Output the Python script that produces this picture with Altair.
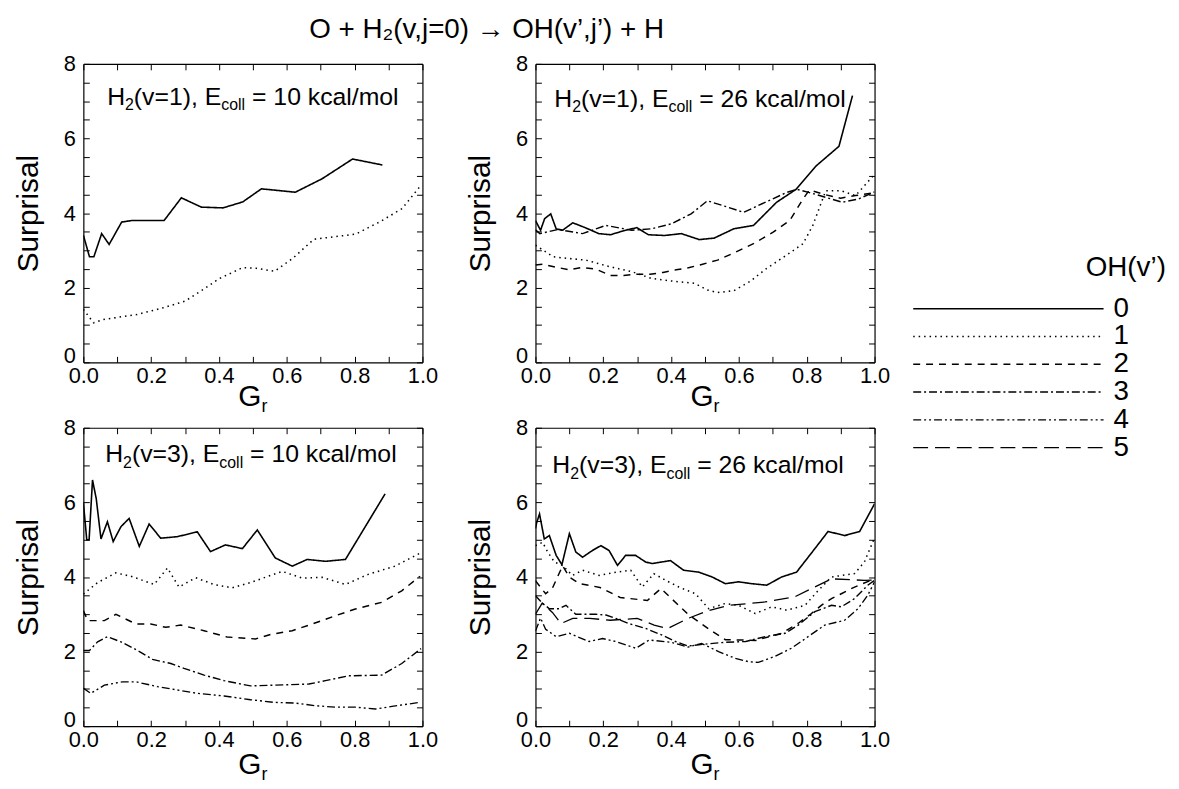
import altair as alt
import pandas as pd

FONT = "Liberation Sans"

# ---------------- text content ----------------
TITLE = "O + H₂(v,j=0) → OH(v’,j’) + H"
LEGEND_TITLE = "OH(v’)"
VPRIME = ["0", "1", "2", "3", "4", "5"]
PANEL_V = ["1", "1", "3", "3"]
PANEL_E = ["10", "26", "10", "26"]
Y_TITLE = "Surprisal"
X_TITLE = ["G", "r"]
X_TICKS = [0.0, 0.1, 0.2, 0.3, 0.4, 0.5, 0.6, 0.7, 0.8, 0.9, 1.0]
Y_TICKS = [0, 0.5, 1, 1.5, 2, 2.5, 3, 3.5, 4, 4.5, 5, 5.5, 6, 6.5, 7, 7.5, 8]

# ---------------- data: H2(v=1), Ecoll = 10 ----------------
TL_G0 = [0, 0.018, 0.031, 0.054, 0.076, 0.113, 0.142, 0.238, 0.289, 0.348, 0.412, 0.47, 0.525, 0.549, 0.625, 0.704, 0.794, 0.882]
TL_S0 = [3.41, 2.83, 2.83, 3.45, 3.16, 3.76, 3.80, 3.80, 4.41, 4.16, 4.14, 4.30, 4.65, 4.63, 4.56, 4.92, 5.45, 5.29]
TL_G1 = [0, 0.03, 0.06, 0.157, 0.235, 0.30, 0.353, 0.40, 0.47, 0.51, 0.564, 0.618, 0.68, 0.745, 0.804, 0.877, 0.94, 0.995]
TL_S1 = [1.42, 1.06, 1.15, 1.28, 1.46, 1.64, 1.95, 2.24, 2.54, 2.52, 2.44, 2.79, 3.30, 3.37, 3.44, 3.78, 4.12, 4.74]

# ---------------- data: H2(v=1), Ecoll = 26 ----------------
TR_G0 = [0, 0.015, 0.027, 0.045, 0.061, 0.08, 0.11, 0.144, 0.187, 0.221, 0.265, 0.299, 0.333, 0.381, 0.43, 0.483, 0.527, 0.585, 0.643, 0.711, 0.769, 0.827, 0.895, 0.935]
TR_S0 = [3.80, 3.54, 3.85, 3.98, 3.58, 3.54, 3.74, 3.62, 3.45, 3.42, 3.54, 3.61, 3.42, 3.40, 3.45, 3.29, 3.33, 3.58, 3.67, 4.29, 4.64, 5.26, 5.79, 7.15]
TR_G1 = [0, 0.052, 0.09, 0.149, 0.216, 0.284, 0.342, 0.41, 0.469, 0.507, 0.537, 0.585, 0.633, 0.682, 0.74, 0.789, 0.818, 0.856, 0.9, 0.944, 1.0]
TR_S1 = [3.14, 2.83, 2.79, 2.74, 2.57, 2.43, 2.25, 2.17, 2.12, 1.94, 1.87, 1.92, 2.17, 2.52, 2.87, 3.18, 3.67, 4.60, 4.60, 4.47, 5.04]
TR_G2 = [0, 0.022, 0.06, 0.1, 0.134, 0.178, 0.221, 0.26, 0.299, 0.338, 0.376, 0.415, 0.454, 0.493, 0.537, 0.585, 0.643, 0.701, 0.75, 0.789, 0.808, 0.856, 0.9, 0.944, 1.0]
TR_S2 = [2.61, 2.63, 2.55, 2.48, 2.54, 2.50, 2.33, 2.33, 2.36, 2.36, 2.41, 2.48, 2.54, 2.63, 2.74, 2.93, 3.18, 3.49, 3.80, 4.38, 4.62, 4.49, 4.40, 4.47, 4.55]
TR_G3 = [0, 0.013, 0.066, 0.139, 0.207, 0.284, 0.342, 0.4, 0.459, 0.507, 0.56, 0.614, 0.68, 0.74, 0.77, 0.808, 0.857, 0.905, 0.953, 1.0]
TR_S3 = [3.55, 3.45, 3.56, 3.45, 3.67, 3.54, 3.58, 3.71, 3.98, 4.33, 4.18, 4.02, 4.30, 4.55, 4.64, 4.55, 4.42, 4.29, 4.38, 4.57]

# ---------------- data: H2(v=3), Ecoll = 10 ----------------
BL_G0 = [0.0, 0.01, 0.017, 0.027, 0.038, 0.052, 0.071, 0.088, 0.111, 0.135, 0.165, 0.194, 0.228, 0.277, 0.336, 0.375, 0.419, 0.469, 0.513, 0.566, 0.616, 0.66, 0.714, 0.773, 0.89]
BL_S0 = [6.0, 5.0, 5.0, 6.6, 6.1, 5.02, 5.48, 4.95, 5.35, 5.57, 4.82, 5.42, 5.04, 5.08, 5.21, 4.68, 4.86, 4.76, 5.26, 4.51, 4.29, 4.47, 4.42, 4.47, 6.23]
BL_G1 = [0, 0.042, 0.096, 0.14, 0.209, 0.248, 0.282, 0.331, 0.385, 0.439, 0.493, 0.561, 0.586, 0.645, 0.704, 0.773, 0.84, 0.919, 0.993]
BL_S1 = [3.54, 3.85, 4.11, 4.02, 3.80, 4.24, 3.73, 3.98, 3.80, 3.71, 3.85, 4.07, 4.15, 3.97, 3.99, 3.80, 4.07, 4.29, 4.64]
BL_G2 = [0.0, 0.013, 0.062, 0.096, 0.155, 0.199, 0.243, 0.287, 0.356, 0.424, 0.508, 0.552, 0.616, 0.675, 0.743, 0.802, 0.88, 0.939, 0.993]
BL_S2 = [3.1, 2.83, 2.83, 3.0, 2.74, 2.74, 2.65, 2.71, 2.56, 2.39, 2.34, 2.46, 2.56, 2.74, 2.96, 3.14, 3.32, 3.63, 4.02]
BL_G3 = [0, 0.018, 0.042, 0.071, 0.111, 0.16, 0.204, 0.258, 0.297, 0.356, 0.415, 0.493, 0.561, 0.665, 0.714, 0.782, 0.88, 0.939, 0.996]
BL_S3 = [2.03, 2.03, 2.26, 2.40, 2.26, 2.03, 1.79, 1.68, 1.55, 1.37, 1.22, 1.08, 1.10, 1.13, 1.22, 1.35, 1.37, 1.68, 2.08]
BL_G4 = [0, 0.022, 0.062, 0.115, 0.155, 0.219, 0.277, 0.336, 0.415, 0.493, 0.561, 0.625, 0.684, 0.743, 0.802, 0.861, 0.91, 0.993]
BL_S4 = [1.02, 0.88, 1.10, 1.19, 1.19, 1.06, 0.97, 0.88, 0.81, 0.71, 0.64, 0.62, 0.55, 0.51, 0.51, 0.46, 0.53, 0.64]

# ---------------- data: H2(v=3), Ecoll = 26 ----------------
BR_G0 = [0, 0.004, 0.012, 0.026, 0.041, 0.061, 0.078, 0.1, 0.119, 0.139, 0.168, 0.193, 0.217, 0.242, 0.266, 0.295, 0.325, 0.344, 0.398, 0.437, 0.481, 0.521, 0.56, 0.599, 0.638, 0.682, 0.726, 0.77, 0.824, 0.863, 0.912, 0.956, 1.0]
BR_S0 = [5.3, 5.47, 5.69, 5.02, 5.11, 4.58, 4.33, 5.16, 4.67, 4.53, 4.71, 4.84, 4.71, 4.31, 4.58, 4.58, 4.40, 4.36, 4.44, 4.18, 4.13, 4.0, 3.82, 3.87, 3.82, 3.78, 4.0, 4.13, 4.76, 5.22, 5.11, 5.22, 5.96]
BR_G1 = [0, 0.021, 0.036, 0.056, 0.08, 0.109, 0.139, 0.188, 0.237, 0.281, 0.315, 0.349, 0.384, 0.423, 0.472, 0.511, 0.56, 0.599, 0.648, 0.697, 0.741, 0.795, 0.83, 0.873, 0.941, 0.97, 1.0]
BR_S1 = [4.84, 4.93, 4.67, 4.40, 4.31, 4.04, 4.18, 4.04, 4.13, 4.18, 3.73, 4.09, 3.91, 3.73, 3.55, 3.15, 3.29, 3.24, 3.02, 3.2, 3.11, 3.24, 3.6, 4.0, 4.09, 4.4, 5.05]
BR_G2 = [0, 0.03, 0.05, 0.08, 0.1, 0.13, 0.19, 0.25, 0.33, 0.37, 0.45, 0.52, 0.56, 0.65, 0.726, 0.775, 0.814, 0.843, 0.873, 0.902, 0.941, 1.0]
BR_S2 = [3.9, 3.55, 3.7, 4.3, 4.0, 3.82, 3.72, 3.45, 3.37, 3.69, 3.0, 2.55, 2.32, 2.3, 2.49, 2.76, 3.02, 3.24, 3.42, 3.55, 3.73, 3.95]
BR_G3 = [0, 0.02, 0.041, 0.07, 0.09, 0.119, 0.178, 0.208, 0.237, 0.276, 0.325, 0.374, 0.413, 0.45, 0.5, 0.56, 0.62, 0.677, 0.736, 0.775, 0.824, 0.873, 0.902, 0.941, 0.98, 1.0]
BR_S3 = [3.5, 3.3, 3.15, 3.15, 3.24, 3.0, 3.0, 2.98, 2.89, 2.75, 2.62, 2.44, 2.27, 2.15, 2.2, 2.25, 2.27, 2.4, 2.49, 2.71, 3.07, 3.24, 3.2, 3.42, 3.78, 3.91]
BR_G4 = [0, 0.015, 0.03, 0.061, 0.1, 0.158, 0.198, 0.237, 0.296, 0.335, 0.4, 0.45, 0.49, 0.54, 0.589, 0.628, 0.657, 0.706, 0.755, 0.804, 0.853, 0.912, 0.951, 0.98, 1.0]
BR_S4 = [2.55, 2.9, 2.6, 2.4, 2.49, 2.27, 2.35, 2.27, 2.09, 2.31, 2.25, 2.12, 2.22, 2.0, 1.82, 1.73, 1.71, 1.87, 2.09, 2.4, 2.71, 2.84, 3.15, 3.51, 3.87]
BR_G5 = [0, 0.02, 0.05, 0.075, 0.11, 0.16, 0.22, 0.3, 0.35, 0.39, 0.45, 0.511, 0.57, 0.677, 0.765, 0.814, 0.873, 0.97, 1.0]
BR_S5 = [3.0, 3.3, 3.05, 2.75, 2.89, 2.89, 2.84, 2.89, 2.71, 2.62, 2.89, 3.1, 3.24, 3.33, 3.47, 3.69, 3.95, 3.91, 3.92]

PANELS = [
    [(TL_G0, TL_S0), (TL_G1, TL_S1)],
    [(TR_G0, TR_S0), (TR_G1, TR_S1), (TR_G2, TR_S2), (TR_G3, TR_S3)],
    [(BL_G0, BL_S0), (BL_G1, BL_S1), (BL_G2, BL_S2), (BL_G3, BL_S3), (BL_G4, BL_S4)],
    [(BR_G0, BR_S0), (BR_G1, BR_S1), (BR_G2, BR_S2), (BR_G3, BR_S3), (BR_G4, BR_S4), (BR_G5, BR_S5)],
]

# ---------------- layout / style ----------------
PW, PH = 342, 301
ANN_POS = [(24, 41), (19, 43), (22, 35), (17, 46)]
GR_BASE = [44, 44, 48, 48]
BIG, SUB, SUBDY = 25, 16, 6
DASHES = [[1, 0], [1.5, 4], [7, 6], [8, 3, 2, 3], [8, 3, 2, 3, 2, 3], [15, 7]]
WIDTHS = [1.6, 1.3, 1.3, 1.3, 1.3, 1.3]

ARIAL = {' ': 278, '(': 333, ')': 333, ',': 278, '=': 584, '+': 584, '/': 278,
         'E': 667, 'H': 722, 'G': 778, 'a': 556, 'c': 500, 'k': 500, 'l': 222,
         'm': 833, 'o': 556, 'r': 333, 'v': 500}


def tw(s, fs):
    return sum(ARIAL.get(c, 556) for c in s) * fs / 1000.0


dash_scale = alt.Scale(domain=VPRIME, range=DASHES)
width_scale = alt.Scale(domain=VPRIME, range=WIDTHS)
xs = alt.Scale(domain=[0, 1], nice=False, zero=False)
ys = alt.Scale(domain=[0, 8], nice=False, zero=False)
INWARD = {"expr": "-6"}
Y_BASELINE = {"condition": {"test": "datum.value == 0", "value": "alphabetic"}, "value": "middle"}


def text_layer(txt, x, y, fs, align="left", baseline="alphabetic"):
    return alt.Chart(pd.DataFrame({"t": [txt]})).mark_text(
        align=align, baseline=baseline, font=FONT, fontSize=fs, color="black"
    ).encode(text="t:N", x=alt.value(x), y=alt.value(y))


def panel(i):
    rows = []
    for k, (g, s) in enumerate(PANELS[i]):
        for gg, ss in zip(g, s):
            rows.append({"G": gg, "S": ss, "v": VPRIME[k]})
    df = pd.DataFrame(rows)
    base = alt.Chart(df)
    lines = base.mark_line(color="black", clip=True).encode(
        x=alt.X("G:Q", scale=xs, axis=alt.Axis(
            title=None, values=X_TICKS, tickSize=INWARD, labelPadding=9,
            labelExpr="round(datum.value*10) % 2 == 0 ? format(datum.value, '.1f') : ''",
            labelFlush=False, labelOverlap=False)),
        y=alt.Y("S:Q", scale=ys, axis=alt.Axis(
            title=Y_TITLE, values=Y_TICKS, tickSize=INWARD, labelPadding=14,
            labelExpr="datum.value % 2 == 0 ? format(datum.value, 'd') : ''",
            labelBaseline=Y_BASELINE,
            titlePadding=20, labelOverlap=False, labelFlush=False)),
        strokeDash=alt.StrokeDash("v:N", scale=dash_scale, legend=None),
        strokeWidth=alt.StrokeWidth("v:N", scale=width_scale, legend=None),
    )
    frame = base.mark_line(opacity=0).encode(
        x=alt.X("G:Q", scale=xs, axis=alt.Axis(
            orient="top", title=None, labels=False, values=X_TICKS, tickSize=INWARD)),
        y=alt.Y("S:Q", scale=ys, axis=alt.Axis(
            orient="right", title=None, labels=False, values=Y_TICKS, tickSize=INWARD)),
        detail="v:N",
    )
    # panel label with sub-scripts
    x0, yb = ANN_POS[i]
    pieces = [("H", BIG, 0), ("2", SUB, SUBDY), ("(v=" + PANEL_V[i] + "), E", BIG, 0),
              ("coll", SUB, SUBDY), (" = " + PANEL_E[i] + " kcal/mol", BIG, 0)]
    layers = [lines, frame]
    cx = x0
    for txt, fs, dy in pieces:
        lead = len(txt) - len(txt.lstrip(" "))
        start = cx + tw(" " * lead, fs)
        layers.append(text_layer(txt.lstrip(" "), start, yb + dy, fs))
        cx += tw(txt, fs)
    # x title G_r
    gw = tw(X_TITLE[0], 30) + tw(X_TITLE[1], 18)
    gx = PW / 2 - gw / 2
    layers.append(text_layer(X_TITLE[0], gx, PH + GR_BASE[i], 30))
    layers.append(text_layer(X_TITLE[1], gx + tw(X_TITLE[0], 30), PH + GR_BASE[i] + 6, 18))
    return alt.layer(*layers).resolve_scale(x="independent", y="independent").properties(width=PW, height=PH)


# ---------------- legend ----------------
leg_df = pd.DataFrame({"v": VPRIME})
leg_y = alt.Scale(type="point", domain=VPRIME, range=[247, 387], padding=0)
leg_rules = alt.Chart(leg_df).mark_rule(color="black").encode(
    x=alt.value(0), x2=alt.value(192),
    y=alt.Y("v:N", scale=leg_y, axis=None),
    strokeDash=alt.StrokeDash("v:N", scale=dash_scale, legend=None),
    strokeWidth=alt.StrokeWidth("v:N", scale=width_scale, legend=None),
)
leg_text = alt.Chart(leg_df).mark_text(
    align="left", baseline="middle", font=FONT, fontSize=28, color="black"
).encode(x=alt.value(202), y=alt.Y("v:N", scale=leg_y, axis=None), text="v:N")
legend = alt.layer(
    leg_rules, leg_text, text_layer(LEGEND_TITLE, 174, 214, 28)
).properties(width=255, height=400)

grid = alt.vconcat(
    alt.hconcat(panel(0), panel(1), spacing=27),
    alt.hconcat(panel(2), panel(3), spacing=27),
    spacing=1,
)

chart = alt.hconcat(grid, legend, spacing=22).properties(
    title=alt.TitleParams(TITLE, anchor="start", dx=298, offset=9, fontSize=28,
                          font=FONT, fontWeight="normal", color="black"),
    padding=5,
    background="white",
).configure_view(strokeWidth=0).configure_axis(
    labelFont=FONT, labelFontSize=22, labelColor="black",
    titleFont=FONT, titleFontSize=30, titleFontWeight="normal", titleColor="black",
    domainColor="black", domainWidth=1.2, tickColor="black", tickWidth=1, grid=False,
)

chart.save("out.html", embed_options={"renderer": "svg", "actions": False})
